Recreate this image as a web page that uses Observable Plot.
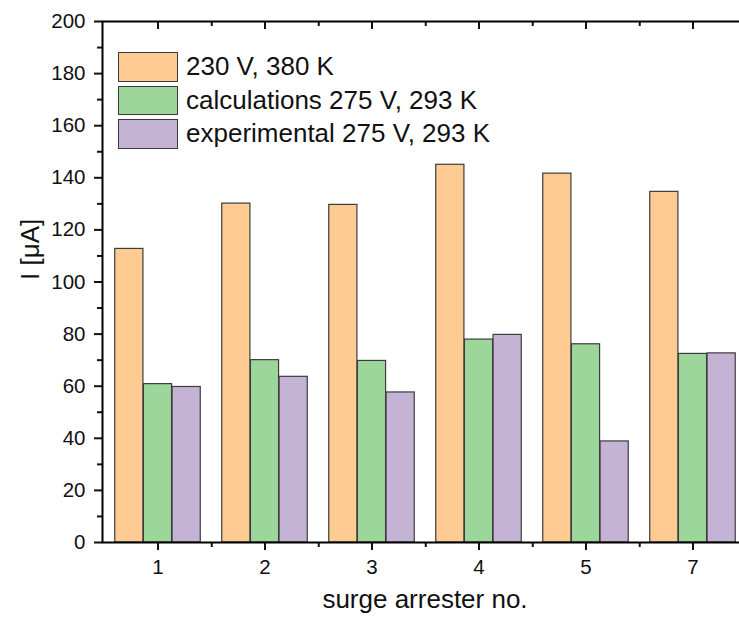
<!DOCTYPE html>
<html>
<head>
<meta charset="utf-8">
<script src="https://cdn.jsdelivr.net/npm/d3@7"></script>
<script src="https://cdn.jsdelivr.net/npm/@observablehq/plot@0.6"></script>
<style>
  body { margin: 0; background: #fff; overflow: hidden; }
  #wrap { position: relative; width: 739px; height: 625px; overflow: hidden; font-family: "Liberation Sans", Arial, sans-serif; }
  #chart svg { max-width: none !important; display: block; }
  #legend { position: absolute; left: 118px; top: 52px; }
  .row { display: flex; align-items: center; height: 29.5px; margin-bottom: 4px; }
  .sw { box-sizing: border-box; width: 60px; height: 29.5px; border: 1.4px solid #3a3a3a; }
  .lbl { margin-left: 8px; font-size: 26px; color: #111; white-space: nowrap; }
</style>
</head>
<body>
<div id="wrap"><div id="chart"></div><div id="legend"></div></div>
<script>
const categories = ["1", "2", "3", "4", "5", "7"];
const seriesNames = ["230 V, 380 K", "calculations 275 V, 293 K", "experimental 275 V, 293 K"];
const values230 = [112.7, 130.1, 129.6, 145.0, 141.6, 134.6];
const valuesCalc = [60.8, 70.0, 69.7, 77.9, 76.1, 72.4];
const valuesExp = [59.7, 63.6, 57.6, 79.7, 38.8, 72.6];
const seriesColors = ["#fecc92", "#9cd69b", "#c5b3d6"];
const yTicks = [0, 20, 40, 60, 80, 100, 120, 140, 160, 180, 200];
const yMinorTicks = [10, 30, 50, 70, 90, 110, 130, 150, 170, 190];
const xTitle = "surge arrester no.";
const yTitle = "I [μA]";

const W = 750, H = 625, ml = 102, mr = 3, mt = 21, mb = 83;
const plotW = W - ml - mr, plotH = H - mt - mb;
const step = plotW / categories.length;
const groupW = 0.8 * step, bw = groupW / 3, off = (step - groupW) / 2;

const allSeries = [values230, valuesCalc, valuesExp];
const barMarks = allSeries.map((vals, i) =>
  Plot.barY(categories.map((c, j) => ({cat: c, v: vals[j]})), {
    x: "cat", y: "v", fill: seriesColors[i], stroke: "#3c3c3c", strokeWidth: 1.2,
    insetLeft: off + i * bw, insetRight: step - off - (i + 1) * bw
  })
);
const boundaries = categories.slice(0, -1);

const chart = Plot.plot({
  width: W, height: H,
  marginLeft: ml, marginRight: mr, marginTop: mt, marginBottom: mb,
  style: {fontFamily: "'Liberation Sans', Arial, sans-serif", background: "white", color: "#111", maxWidth: "none"},
  x: {type: "band", domain: categories, padding: 0},
  y: {domain: [0, 200]},
  marks: [
    ...barMarks,
    Plot.axisY(yTicks, {tickSize: 8, tickPadding: 9, fontSize: 20.5, strokeWidth: 2, label: null}),
    Plot.axisY(yMinorTicks, {tickSize: 5, tickFormat: () => "", strokeWidth: 2, label: null}),
    Plot.ruleY(yTicks, {y: d => d, insetLeft: plotW - 8, strokeWidth: 2}),
    Plot.ruleY(yMinorTicks, {y: d => d, insetLeft: plotW - 5, strokeWidth: 2}),
    Plot.axisX({tickSize: 8, tickPadding: 9, fontSize: 20.5, strokeWidth: 2, label: null}),
    Plot.axisX(boundaries, {tickSize: 5, tickFormat: () => "", dx: step / 2, strokeWidth: 2, label: null}),
    Plot.ruleX(categories, {x: d => d, insetBottom: plotH - 8, strokeWidth: 2}),
    Plot.ruleX(boundaries, {x: d => d, dx: step / 2, insetBottom: plotH - 5, strokeWidth: 2}),
    Plot.frame({stroke: "#000", strokeWidth: 2}),
    Plot.text([yTitle], {frameAnchor: "left", dx: -72, dy: -2, rotate: -90, fontSize: 26}),
    Plot.text([xTitle], {frameAnchor: "bottom", dy: 65, fontSize: 26})
  ]
});
document.getElementById("chart").appendChild(chart);

const legend = document.getElementById("legend");
seriesNames.forEach((name, i) => {
  const row = document.createElement("div");
  row.className = "row";
  const sw = document.createElement("div");
  sw.className = "sw";
  sw.style.background = seriesColors[i];
  const lbl = document.createElement("span");
  lbl.className = "lbl";
  lbl.textContent = name;
  row.appendChild(sw);
  row.appendChild(lbl);
  legend.appendChild(row);
});
</script>
</body>
</html>
